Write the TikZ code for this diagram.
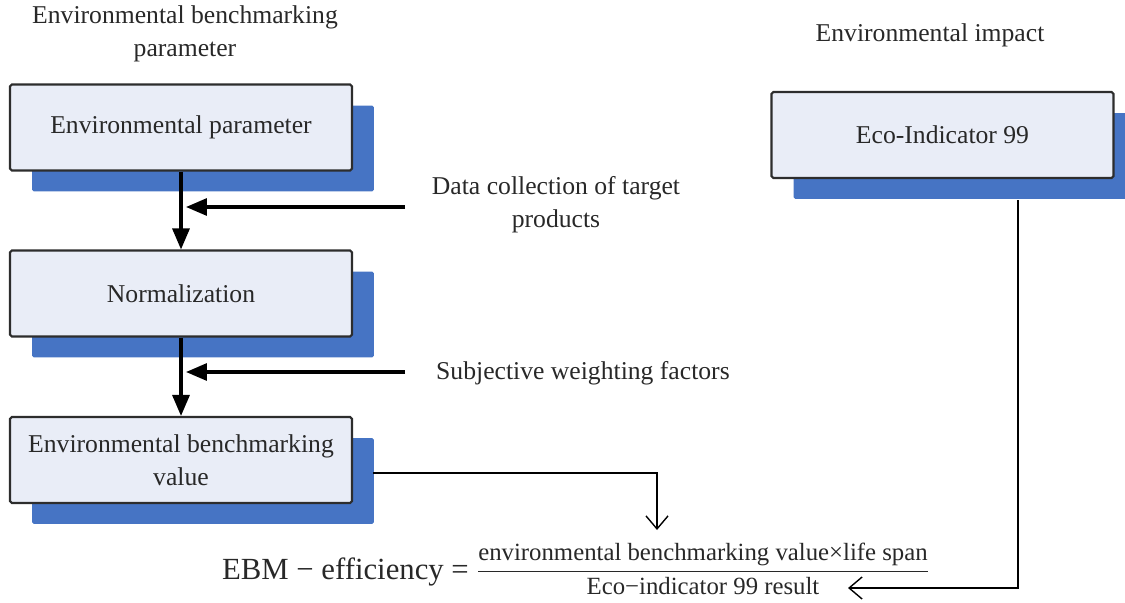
\documentclass[tikz,border=0pt]{standalone}
\usepackage{amsmath}
\usepackage{fontspec}
\setmainfont{Liberation Serif}
\usetikzlibrary{arrows.meta,shadows,calc}
\definecolor{boxfill}{RGB}{233,237,247}
\definecolor{boxshadow}{RGB}{70,116,196}
\definecolor{boxline}{RGB}{45,45,45}
\definecolor{inktext}{RGB}{40,40,40}

\begin{document}
\begin{tikzpicture}[x=0.02cm, y=-0.02cm,
        stage/.style={draw=boxline, line width=1.2pt, fill=boxfill, rounded corners=1pt,
            minimum width=6.84cm, minimum height=1.72cm, align=center, text=inktext,
            font=\fontsize{14.6}{19}\selectfont,
            general shadow={fill=boxshadow, shadow xshift=0.44cm, shadow yshift=-0.42cm}},
        note/.style={align=center, text=inktext, font=\fontsize{14.6}{19}\selectfont},
        flow/.style={line width=1.8pt, -{Triangle[length=0.42cm, width=0.34cm]}},
        link/.style={line width=0.8pt, -{Straight Barb[length=0.26cm, width=0.44cm]}}
    ]
    \useasboundingbox (0,0) rectangle (1125,602);

    % headings
    \node[note] (title) at (185,34) {Environmental benchmarking\\parameter};
    \node[note] (impact) at (930,35) {Environmental impact};

    % left column
    \node[stage] (env) at (181,127.5) {Environmental parameter};
    \node[stage] (norm) at (181,293.5) {Normalization};
    \node[stage] (ebv) at (181,460) {Environmental benchmarking\\value};

    % right column
    \node[stage] (eco) at (942.5,135) {Eco-Indicator 99};

    % inputs
    \node[note] (data) at (556,205) {Data collection of target\\products};
    \node[note, anchor=west] (weight) at (430,373) {Subjective weighting factors};

    \draw[flow] (env) -- (norm);
    \draw[flow] (norm) -- (ebv);

    \coordinate (in1) at (405,207);
    \coordinate (in2) at (405,372);
    \draw[flow, shorten >=0.1cm] (in1) -- (in1 -| env.south);
    \draw[flow, shorten >=0.1cm] (in2) -- (in2 -| norm.south);

    % formula
    \node[anchor=base east, text=inktext, font=\fontsize{17.5}{20}\selectfont] (lhs) at (475,579)
        {EBM − efficiency =};
    \node[text=inktext, font=\fontsize{14.1}{16}\selectfont, inner xsep=0pt] (frac) at (703,569)
        {$\dfrac{\text{environmental benchmarking value×life span}}{\text{Eco−indicator 99 result}}$};

    \coordinate (fin1) at (657,530);
    \coordinate (fin2) at (848,588);
    \draw[link] ($(ebv.east)+(20,13)$) -| (fin1);
    \draw[link] ($(eco.south)+(75.5,21)$) |- (fin2);

\end{tikzpicture}
\end{document}
